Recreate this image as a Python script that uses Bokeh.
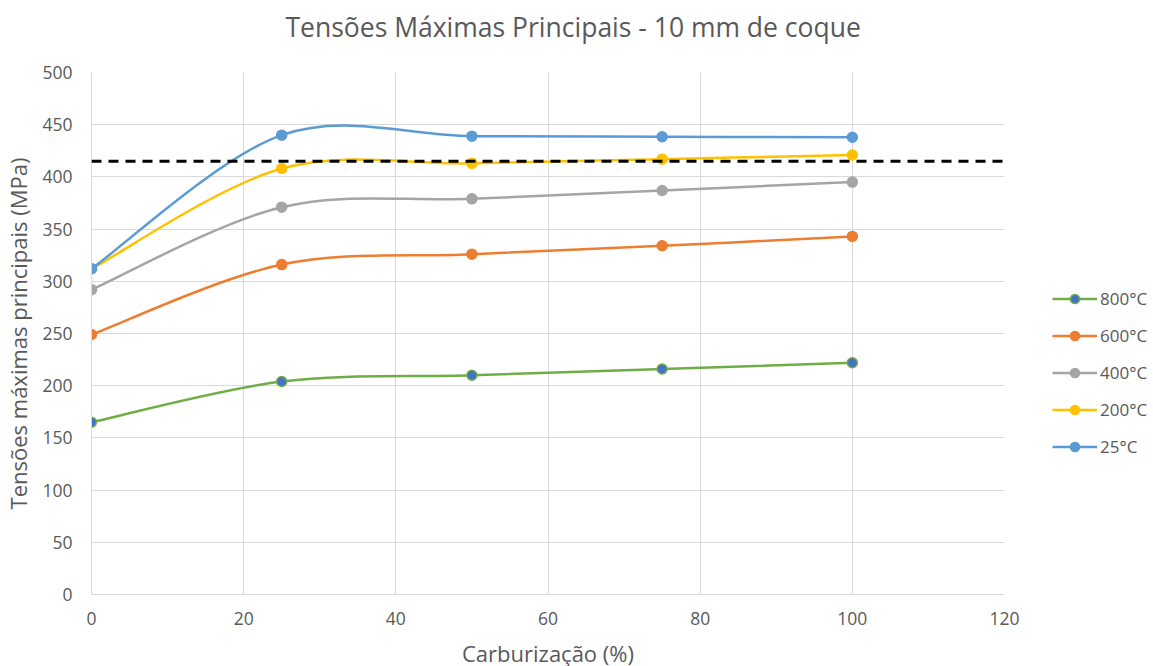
from bokeh.plotting import figure
from bokeh.models import Range1d, Span, Legend, LegendItem, Title, ColumnDataSource, FixedTicker
from bokeh.embed import file_html
from bokeh.resources import INLINE

# ---- data ----
carburizacao = [0, 25, 50, 75, 100]
t800 = [165, 204, 210, 216, 222]
t600 = [249, 316, 326, 334, 343]
t400 = [292, 371, 379, 387, 395]
t200 = [312, 408, 413, 417, 421]
t25 = [312, 440, 439, 438.5, 438]
limite = 415
labels = ["800°C", "600°C", "400°C", "200°C", "25°C"]
x_ticks = [0, 20, 40, 60, 80, 100, 120]
y_ticks = [0, 50, 100, 150, 200, 250, 300, 350, 400, 450, 500]

series = [t800, t600, t400, t200, t25]
line_colors = ["#70ad47", "#ed7d31", "#a5a5a5", "#ffc000", "#5b9bd5"]
fill_colors = ["#4472c4", "#ed7d31", "#a5a5a5", "#ffc000", "#5b9bd5"]

FONT = "Open Sans"
TXT = "#595959"
NAN = float("nan")


def smooth_segments(xs, ys):
    """Excel-like smoothed line: cubic Bezier segments through the points."""
    n = len(xs)
    d = dict(x0=[], y0=[], x1=[], y1=[], cx0=[], cy0=[], cx1=[], cy1=[])
    for i in range(n - 1):
        im = max(i - 1, 0)
        ip = min(i + 2, n - 1)
        d["x0"].append(xs[i]); d["y0"].append(ys[i])
        d["x1"].append(xs[i + 1]); d["y1"].append(ys[i + 1])
        d["cx0"].append(xs[i] + (xs[i + 1] - xs[im]) / 6)
        d["cy0"].append(ys[i] + (ys[i + 1] - ys[im]) / 6)
        d["cx1"].append(xs[i + 1] - (xs[ip] - xs[i]) / 6)
        d["cy1"].append(ys[i + 1] - (ys[ip] - ys[i]) / 6)
    return ColumnDataSource(d)


fw, fh = 913, 522

p = figure(frame_width=fw, frame_height=fh, output_backend="svg", toolbar_location=None,
           x_range=Range1d(0, 120), y_range=Range1d(0, 500),
           min_border_left=83, min_border_right=141,
           min_border_top=72, min_border_bottom=60,
           title=None)
p.outline_line_color = None
p.background_fill_color = "white"

# spacer between frame and title (nearest to the frame)
spacer = Title(text=" ", text_font_size="1px", standoff=25)
p.add_layout(spacer, "above")
t = Title(text="Tensões Máximas Principais - 10 mm de coque", align="left",
          offset=194, text_font=FONT, text_font_size="26.5px",
          text_font_style="normal", text_color=TXT, standoff=0)
p.add_layout(t, "above")

for ax in (p.xaxis[0], p.yaxis[0]):
    ax.major_tick_line_color = None
    ax.minor_tick_line_color = None
    ax.major_tick_out = 0
    ax.major_tick_in = 0
    ax.axis_line_color = "#d9d9d9"
    ax.major_label_text_font = FONT
    ax.major_label_text_font_size = "17.5px"
    ax.major_label_text_color = TXT
    ax.axis_label_text_font = FONT
    ax.axis_label_text_font_size = "22px"
    ax.axis_label_text_font_style = "normal"
    ax.axis_label_text_color = TXT

p.xaxis.ticker = FixedTicker(ticks=x_ticks)
p.yaxis.ticker = FixedTicker(ticks=y_ticks)
p.xaxis.axis_label = "Carburização (%)"
p.yaxis.axis_label = "Tensões máximas principais (MPa)"
p.xaxis.major_label_standoff = 17
p.yaxis.major_label_standoff = 19
p.xaxis.axis_label_standoff = 10
p.yaxis.axis_label_standoff = 6

p.xgrid.grid_line_color = "#d9d9d9"
p.ygrid.grid_line_color = "#d9d9d9"
p.xgrid.grid_line_width = 1
p.ygrid.grid_line_width = 1

items = []
for ys, lc, fc, lab in zip(series, line_colors, fill_colors, labels):
    src = smooth_segments(carburizacao, ys)
    p.bezier(x0="x0", y0="y0", x1="x1", y1="y1", cx0="cx0", cy0="cy0",
             cx1="cx1", cy1="cy1", source=src, line_color=lc, line_width=2.5)
    leg_line = p.line(x=[NAN, NAN], y=[NAN, NAN], line_color=lc, line_width=2.5)
    sc = p.scatter(carburizacao, ys, size=10, fill_color=fc, line_color=lc,
                   line_width=1.5)
    items.append(LegendItem(label=lab, renderers=[leg_line, sc]))

span = Span(location=limite, dimension="width", line_color="black",
            line_width=3, line_dash="10 7")
p.add_layout(span)

legend = Legend(items=items, location=(48, 136), orientation="vertical",
                glyph_width=45, glyph_height=23, label_height=23,
                spacing=14, padding=0, margin=0, label_standoff=3,
                label_text_font=FONT, label_text_font_size="17px",
                label_text_color=TXT, border_line_color=None,
                background_fill_alpha=0)
p.add_layout(legend, "right")

open("out.html", "w").write(file_html(p, INLINE))
